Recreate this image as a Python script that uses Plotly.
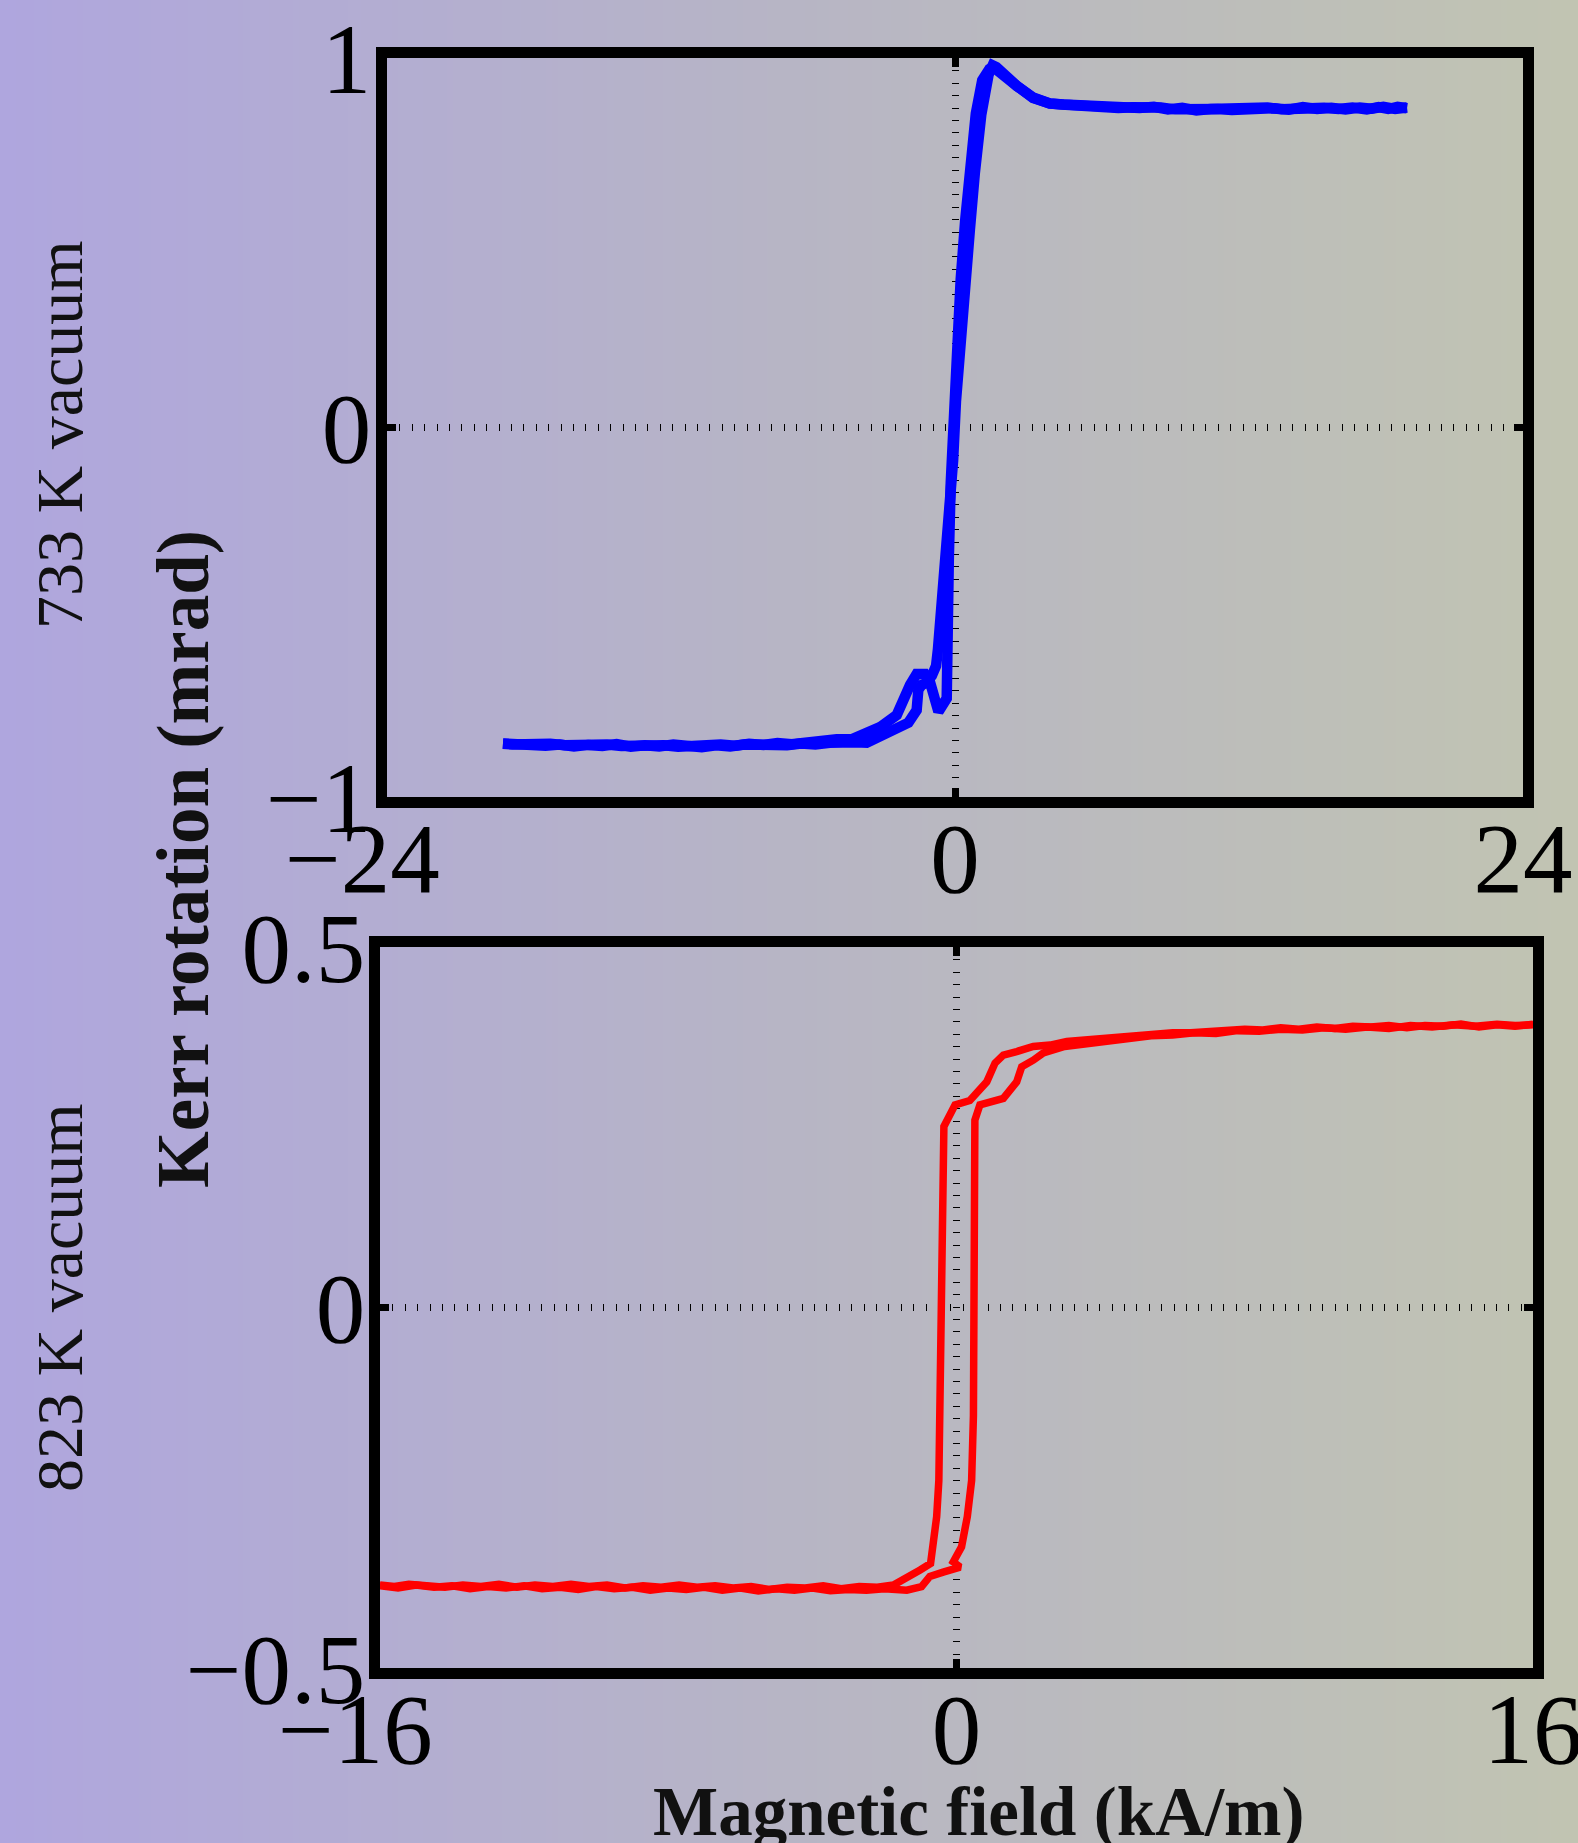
import base64
import struct
import zlib
import plotly.graph_objects as go

# ---------------- data ----------------
# 733 K vacuum (top panel): field (kA/m) and Kerr rotation (mrad)
h733_up = [-19.1, -18.5, -17.9, -17.3, -16.7, -16.1, -15.5, -14.9, -14.3, -13.7, -13.1, -12.5,
           -11.9, -11.3, -10.7, -10.1, -9.5, -8.9, -8.3, -7.7, -7.1, -6.5, -5.9, -5.3, -4.7,
           -4.2,
           -3.73, -2.89, -1.97, -1.62, -1.55, -1.41, -1.23, -0.98, -0.8, -0.72, -0.6, -0.42,
           -0.22, -0.08, 0.04, 0.21, 0.39, 0.63, 0.84, 1.11, 1.42, 1.59, 1.75, 1.9, 2.2, 2.62,
           3.3, 4.0,
           4.6, 5.4, 6.0, 6.6, 7.2, 7.8, 8.4, 9.0, 9.6, 10.2, 10.8, 11.4, 12.0, 12.6, 13.2,
           13.8, 14.4, 15.0, 15.6, 16.2, 16.8, 17.4, 17.9, 18.3, 18.7, 19.1]
k733_up = [-0.855, -0.859, -0.856, -0.861, -0.858, -0.863, -0.859, -0.862, -0.857, -0.864,
           -0.86, -0.863, -0.858, -0.862, -0.865, -0.86, -0.863, -0.858, -0.861, -0.857,
           -0.86, -0.855, -0.858, -0.853, -0.856, -0.852,
           -0.853, -0.826, -0.799, -0.765, -0.71, -0.697, -0.692, -0.672, -0.645, -0.6,
           -0.5, -0.4, -0.26, -0.09, 0.07, 0.225, 0.38, 0.536, 0.69, 0.846,
           0.955, 0.98, 0.975, 0.965, 0.945, 0.924, 0.893, 0.877,
           0.874, 0.870, 0.868, 0.871, 0.866, 0.865, 0.868, 0.861, 0.865, 0.858,
           0.862, 0.864, 0.86, 0.863, 0.866, 0.861, 0.864, 0.86, 0.865, 0.862,
           0.866, 0.861, 0.867, 0.862, 0.868, 0.864]
h733_down = [19.1, 18.6, 18.1, 17.6, 17.1, 16.5, 15.9, 15.3, 14.7, 14.1, 13.5, 12.9, 12.3,
             11.7, 11.1, 10.5, 9.9, 9.3, 8.7, 8.1, 7.5, 6.9, 6.3, 5.7, 5.1, 4.5,
             4.0, 3.3, 2.6, 2.1, 1.8, 1.62, 1.45, 1.15, 0.88, 0.66, 0.43, 0.24, 0.06, -0.1,
             -0.18, -0.26, -0.31, -0.35, -0.70, -1.06, -1.27, -1.62, -1.9, -2.25, -2.46,
             -3.17, -3.73, -4.37, -5.0, -5.7,
             -6.3, -6.9, -7.5, -8.1, -8.7, -9.3, -9.9, -10.5, -11.1, -11.7, -12.3, -12.9,
             -13.5, -14.1, -14.7, -15.3, -15.9, -16.5, -17.1, -17.7, -18.3, -18.7, -19.1]
k733_down = [0.866, 0.862, 0.868, 0.863, 0.866, 0.861, 0.865, 0.862, 0.867, 0.86,
             0.864, 0.861, 0.865, 0.859, 0.862, 0.86, 0.864, 0.861, 0.866, 0.863,
             0.867, 0.865, 0.869, 0.868, 0.872, 0.874,
             0.877, 0.892, 0.925, 0.948, 0.965, 0.975, 0.97, 0.94, 0.85, 0.72,
             0.56, 0.4, 0.2, 0.0, -0.15, -0.35, -0.55, -0.733, -0.769, -0.688,
             -0.667, -0.667, -0.697, -0.742, -0.778, -0.811, -0.83, -0.844, -0.844, -0.85,
             -0.853, -0.857, -0.854, -0.859, -0.856, -0.861, -0.858, -0.862, -0.859, -0.864,
             -0.86, -0.863, -0.859, -0.862, -0.858, -0.861, -0.857, -0.86, -0.856, -0.859,
             -0.857, -0.858, -0.856]

# 823 K vacuum (bottom panel)
h823_down = [16.0, 15.5, 15.0, 14.5, 14.0, 13.5, 13.0, 12.5, 12.0, 11.5, 11.0, 10.5, 10.0,
             9.5, 9.0, 8.5, 8.0, 7.5, 7.0, 6.5, 6.0, 5.5, 5.0, 4.54,
             4.0, 3.6, 3.06, 2.6, 2.13, 1.67, 1.3, 1.07, 0.84, 0.37, -0.04, -0.35, -0.36,
             -0.40, -0.45, -0.49, -0.55, -0.72, -1.01, -1.48, -1.75, -2.2,
             -2.7, -3.2, -3.7, -4.2, -4.7, -5.2, -5.7, -6.2, -6.7, -7.2, -7.7, -8.2, -8.7,
             -9.2, -9.7, -10.2, -10.7, -11.2, -11.7, -12.2, -12.7, -13.2, -13.7, -14.2,
             -14.7, -15.2, -15.6, -16.0]
k823_down = [0.393, 0.390, 0.392, 0.389, 0.393, 0.390, 0.391, 0.388, 0.391, 0.389,
             0.390, 0.387, 0.389, 0.386, 0.388, 0.385, 0.386, 0.384, 0.384, 0.381,
             0.381, 0.379, 0.378, 0.376,
             0.374, 0.371, 0.369, 0.364, 0.362, 0.355, 0.35, 0.339, 0.313, 0.287,
             0.281, 0.251, 0.2, 0.0, -0.15, -0.24, -0.29, -0.355, -0.364, -0.376,
             -0.385, -0.388,
             -0.387, -0.390, -0.386, -0.389, -0.388, -0.391, -0.387, -0.389, -0.386, -0.388,
             -0.385, -0.388, -0.386, -0.389, -0.385, -0.387, -0.384, -0.387, -0.385, -0.388,
             -0.384, -0.387, -0.385, -0.388, -0.386, -0.384, -0.387, -0.385]
h823_up = [-16.0, -15.5, -15.0, -14.5, -14.0, -13.5, -13.0, -12.5, -12.0, -11.5, -11.0, -10.5,
           -10.0, -9.5, -9.0, -8.5, -8.0, -7.5, -7.0, -6.5, -6.0, -5.5, -5.0, -4.5, -4.0,
           -3.5, -3.0, -2.5, -2.0,
           -1.38, -0.97, -0.74, -0.37, 0.1, -0.09, 0.14, 0.30, 0.42, 0.47, 0.50, 0.51, 0.51,
           0.65, 1.02, 1.3, 1.67, 1.81, 2.13, 2.41, 3.0,
           3.6, 4.2, 4.8, 5.4, 6.0, 6.6, 7.2, 7.8, 8.4, 9.0, 9.6, 10.2, 10.8, 11.4, 12.0,
           12.6, 13.2, 13.8, 14.4, 15.0, 15.5, 16.0]
k823_up = [-0.386, -0.389, -0.385, -0.388, -0.386, -0.390, -0.387, -0.389, -0.386, -0.39,
           -0.388, -0.391, -0.387, -0.39, -0.388, -0.392, -0.389, -0.391, -0.388, -0.392,
           -0.389, -0.393, -0.39, -0.392, -0.389, -0.393, -0.391, -0.392, -0.39,
           -0.392, -0.387, -0.373, -0.367, -0.36, -0.353, -0.332, -0.29, -0.24, -0.15,
           0.0, 0.15, 0.26, 0.281, 0.285, 0.29, 0.313, 0.334, 0.343, 0.353, 0.362,
           0.366, 0.371, 0.373, 0.377, 0.378, 0.381, 0.380, 0.384, 0.383, 0.386,
           0.385, 0.388, 0.386, 0.389, 0.387, 0.391, 0.389, 0.392, 0.390, 0.393,
           0.391, 0.392]

x733_ticks = [-24, 0, 24]
x733_labels = ["\u221224\u2007", "0", "24"]
y733_ticks = [-1, 0, 1]
y733_labels = ["\u22121", "0", "1"]
x823_ticks = [-16, 0, 16]
x823_labels = ["\u221216\u2007", "0", "16"]
y823_ticks = [-0.5, 0, 0.5]
y823_labels = ["\u22120.5", "0", "0.5"]

assert len(h733_up) == len(k733_up) and len(h733_down) == len(k733_down)
assert len(h823_up) == len(k823_up) and len(h823_down) == len(k823_down)

# ---------------- figure ----------------
W, H = 1578, 1843
FONT = "Liberation Serif"


def png_gradient(stops, width=256, height=4):
    row = bytearray()
    for i in range(width):
        t = i / (width - 1)
        for k in range(len(stops) - 1):
            t0, c0 = stops[k]
            t1, c1 = stops[k + 1]
            if t0 <= t <= t1:
                f = (t - t0) / (t1 - t0)
                row += bytes(int(round(c0[j] + (c1[j] - c0[j]) * f)) for j in range(3))
                break
    raw = b"".join(b"\x00" + bytes(row) for _ in range(height))

    def chunk(tag, data):
        return (struct.pack(">I", len(data)) + tag + data +
                struct.pack(">I", zlib.crc32(tag + data) & 0xFFFFFFFF))

    png = (b"\x89PNG\r\n\x1a\n" +
           chunk(b"IHDR", struct.pack(">IIBBBBB", width, height, 8, 2, 0, 0, 0)) +
           chunk(b"IDAT", zlib.compress(raw)) + chunk(b"IEND", b""))
    return "data:image/png;base64," + base64.b64encode(png).decode()


bg = png_gradient([(0.0, (175, 166, 222)), (0.5, (183, 181, 197)), (1.0, (193, 196, 178))])

fig = go.Figure()
line_blue = dict(color="#0000ff", width=10.5, shape="linear")
line_red = dict(color="#ff0000", width=7.5, shape="linear")
fig.add_trace(go.Scatter(x=h733_up, y=k733_up, mode="lines", line=line_blue,
                         xaxis="x", yaxis="y", showlegend=False))
fig.add_trace(go.Scatter(x=h733_down, y=k733_down, mode="lines", line=line_blue,
                         xaxis="x", yaxis="y", showlegend=False))
fig.add_trace(go.Scatter(x=h823_down, y=k823_down, mode="lines", line=line_red,
                         xaxis="x2", yaxis="y2", showlegend=False))
fig.add_trace(go.Scatter(x=h823_up, y=k823_up, mode="lines", line=line_red,
                         xaxis="x2", yaxis="y2", showlegend=False))


def ax_style(**kw):
    d = dict(showline=True, linecolor="black", linewidth=11, mirror="ticks",
             ticks="inside", ticklen=9, tickwidth=7, tickcolor="black",
             showgrid=True, gridcolor="black", gridwidth=7, griddash="1px,11.4px",
             zeroline=False, tickmode="array", fixedrange=True, automargin=False,
             ticklabeloverflow="allow",
             tickfont=dict(family=FONT, size=99, color="black"))
    d.update(kw)
    return d


def px_x(p):
    return p / W


def px_y(p):
    return 1 - p / H


fig.update_layout(
    width=W, height=H, autosize=False,
    margin=dict(l=0, r=0, t=0, b=0, pad=0, autoexpand=False),
    paper_bgcolor="#b7b5c2",
    plot_bgcolor="rgba(0,0,0,0)",
    images=[dict(source=bg, xref="paper", yref="paper", x=0, y=1, sizex=1, sizey=1,
                 xanchor="left", yanchor="top", sizing="stretch", layer="below")],
    xaxis=ax_style(domain=[px_x(387), px_x(1523)], range=[-24, 24], anchor="y",
                   tickvals=x733_ticks, ticktext=x733_labels, ticklabelstandoff=-35),
    yaxis=ax_style(domain=[px_y(797), px_y(58)], range=[-1, 1], anchor="x",
                   tickvals=y733_ticks, ticktext=y733_labels, ticklabelstandoff=-15),
    xaxis2=ax_style(domain=[px_x(380), px_x(1533)], range=[-16, 16], anchor="y2",
                    tickvals=x823_ticks, ticktext=x823_labels, ticklabelstandoff=-35),
    yaxis2=ax_style(domain=[px_y(1668), px_y(947)], range=[-0.5, 0.5], anchor="x2",
                    tickvals=y823_ticks, ticktext=y823_labels, ticklabelstandoff=-16),
    annotations=[
        dict(text="<b>Kerr rotation (mrad)</b>", textangle=-90, xref="paper", yref="paper",
             x=px_x(184), y=px_y(859), xanchor="center", yanchor="middle", showarrow=False,
             font=dict(family=FONT, size=73, color="#111111")),
        dict(text="733 K vacuum", textangle=-90, xref="paper", yref="paper",
             x=px_x(59), y=px_y(435), xanchor="center", yanchor="middle", showarrow=False,
             font=dict(family=FONT, size=66, color="#111111")),
        dict(text="823 K vacuum", textangle=-90, xref="paper", yref="paper",
             x=px_x(59), y=px_y(1298), xanchor="center", yanchor="middle", showarrow=False,
             font=dict(family=FONT, size=66, color="#111111")),
        dict(text="<b>Magnetic field (kA/m)</b>", xref="paper", yref="paper",
             x=px_x(979), y=px_y(1812), xanchor="center", yanchor="middle", showarrow=False,
             font=dict(family=FONT, size=69, color="#111111")),
    ],
)

fig.write_html("out.html")
